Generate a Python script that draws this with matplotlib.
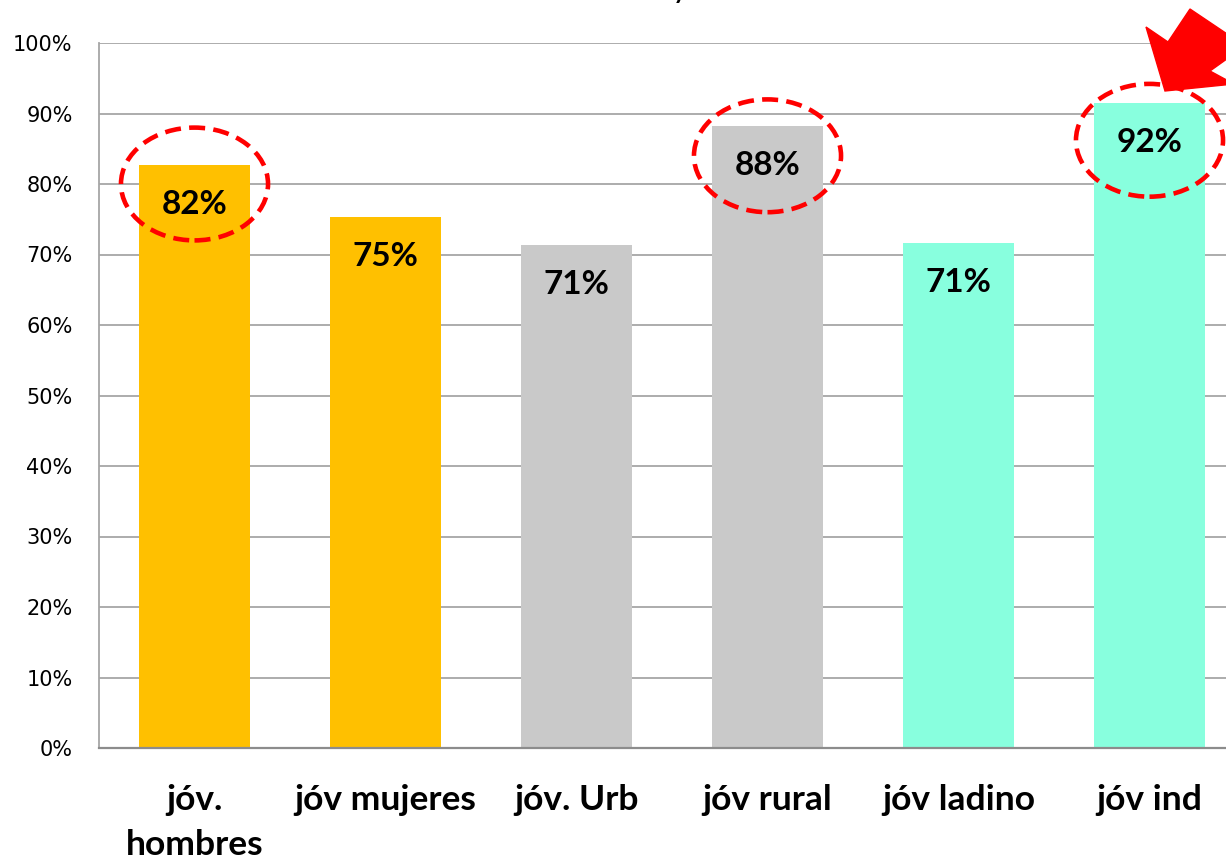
import matplotlib.pyplot as plt
from matplotlib.patches import Ellipse, Polygon

categories = ['jóv.\nhombres', 'jóv mujeres', 'jóv. Urb', 'jóv rural', 'jóv ladino', 'jóv ind']
values = [82.7, 75.3, 71.4, 88.2, 71.6, 91.5]
labels = ['82%', '75%', '71%', '88%', '71%', '92%']
colors = ['#FFC000', '#FFC000', '#C9C9C9', '#C9C9C9', '#88FFDE', '#88FFDE']
circled = [0, 3, 5]
yticks = list(range(0, 101, 10))

W, H = 1226, 859
fig = plt.figure(figsize=(W / 100, H / 100), dpi=100)
ax = fig.add_axes([99 / W, 1 - 748 / H, 1146 / W, 705 / H])

x = list(range(len(categories)))
ax.bar(x, values, width=0.58, color=colors, zorder=2)
ax.set_xlim(-0.5, len(categories) - 0.5)
ax.set_ylim(0, 100)

ax.set_yticks(yticks)
ax.set_yticklabels(['%d%%' % t for t in yticks], family='DejaVu Sans', fontsize=15)
ax.set_xticks(x)
ax.set_xticklabels(categories, family='Lato', fontweight='bold', fontsize=25.5, linespacing=1.5)
ax.tick_params(axis='y', length=0, pad=19)
ax.tick_params(axis='x', length=0, pad=26)
ax.grid(axis='y', color='#A6A6A6', lw=1.3, zorder=1)
for s in ['top', 'right']:
    ax.spines[s].set_visible(False)
ax.spines['left'].set_color('#A6A6A6')
ax.spines['left'].set_linewidth(1.3)
ax.spines['bottom'].set_color('#8C8C8C')
ax.spines['bottom'].set_linewidth(1.6)

for i, v in enumerate(values):
    ax.text(i, v - 5.6, labels[i], ha='center', va='center', family='Lato',
            fontweight='bold', fontsize=24, zorder=3)

# red dashed rings round the highlighted bars
ring_dy = [2.7, 4.2, 5.3]
for i, dy in zip(circled, ring_dy):
    ax.add_patch(Ellipse((i, values[i] - dy), 0.77, 16, fill=False, ec='#FF0000',
                         lw=3.3, ls=(0, (3.5, 1.8)), zorder=4, clip_on=False))

# red arrow pointing at the last ring
pts = [(1165, 91), (1146, 27), (1168, 42), (1190, 9), (1245, 46), (1210, 71), (1234, 84)]
fig.add_artist(Polygon([(px / W, 1 - py / H) for px, py in pts], closed=True,
                       color='#FF0000', transform=fig.transFigure, zorder=5))

# title cut off by the top edge
fig.text(680 / W, 1 + 3 / H, 'y', ha='center', va='baseline', fontsize=24, family='Lato')

fig.savefig('out.png', dpi=100)
